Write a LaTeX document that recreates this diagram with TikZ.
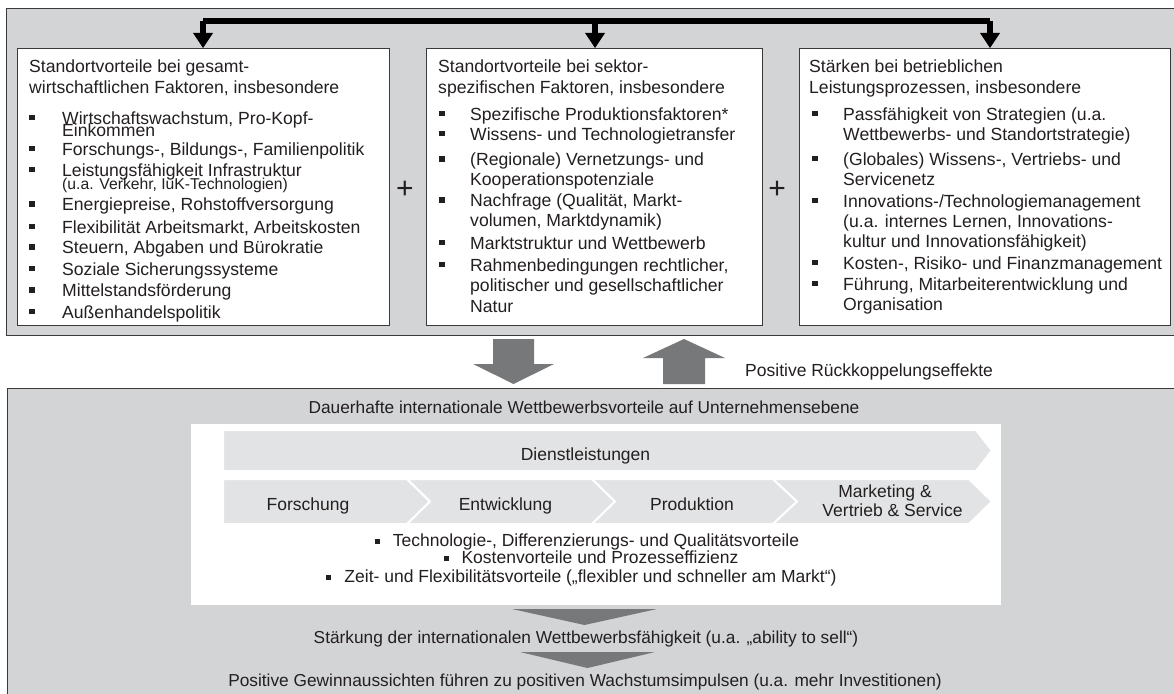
\documentclass[tikz,border=0pt]{standalone}
\usepackage{fontspec}
\setmainfont{Liberation Sans}
\usetikzlibrary{arrows.meta}
\definecolor{panel}{HTML}{D3D4D6}
\definecolor{ink}{HTML}{231F20}
\definecolor{chev}{HTML}{E2E3E4}
\definecolor{arr}{HTML}{77787A}
\definecolor{edge}{HTML}{3A3A3A}
\newcommand\fsA{\fontsize{17.6}{20}\selectfont}
\newcommand\fsB{\fontsize{17.5}{20}\selectfont}
\newcommand\fsC{\fontsize{17.3}{20}\selectfont}
\newcommand\fsS{\fontsize{15.7}{18}\selectfont}
\newcommand\fsP{\fontsize{30}{32}\selectfont}
\newcommand\bsq{\rule[2pt]{5pt}{5pt}\hspace{13pt}}
\newcommand\myitem[5]{\node[bul] (#1b) at (#2+3,#4-6.5) {}; \node[txt] (#1) at (#3,#4) {#5};}
\tikzset{
  txt/.style={anchor=base west, inner sep=0pt, text=ink, font=\fsA},
  btxt/.style={anchor=base, inner sep=0pt, text=ink, font=\fsB},
  ctxt/.style={anchor=base, inner sep=0pt, text=ink, font=\fsC},
  bul/.style={fill=ink, minimum size=5.5pt, inner sep=0pt},
  box/.style={draw=edge, fill=white, line width=1pt, inner sep=0pt, anchor=north west},
  panelbox/.style={draw=edge, fill=panel, line width=1.2pt, inner sep=0pt, anchor=north west},
  bus/.style={line width=6.5pt, draw=black},
  tip/.style={-{Triangle[length=15pt,width=20pt,line width=0pt]}},
  fat/.style={fill=arr},
  chevron/.style={fill=chev, draw=white, line width=2pt, line join=miter},
  plus/.style={inner sep=0pt, text=ink, font=\fsP}
}
\begin{document}
\begin{tikzpicture}[x=1pt,y=-1pt]
\useasboundingbox (0,0) rectangle (1174,693);
% panels
\node[panelbox, minimum width=1190pt, minimum height=327pt] (top) at (6,8) {};
\node[panelbox, minimum width=1190pt, minimum height=320pt] (bot) at (7,388) {};
% boxes
\node[box, minimum width=372pt, minimum height=277pt] (b1) at (17,48) {};
\node[box, minimum width=336pt, minimum height=277pt] (b2) at (426,48) {};
\node[box, minimum width=371pt, minimum height=277pt] (b3) at (799,48) {};
% bus
\coordinate (c1) at (203,21);
\coordinate (c2) at (595,21);
\coordinate (c3) at (990,21);
\draw[bus] (c1) -- (c3);
\draw[bus, tip] (c1) -- (c1 |- b1.north);
\draw[bus, tip] (c2) -- (c2 |- b2.north);
\draw[bus, tip] (c3) -- (c3 |- b3.north);
% plus signs
\node[plus] (pl1) at (405,190) {+};
\node[plus] (pl2) at (777,190) {+};
% box 1
\node[txt] (h1a) at (29,72) {Standortvorteile bei gesamt-};
\node[txt] (h1b) at (29,93) {wirtschaftlichen Faktoren, insbesondere};
\myitem{a1}{29}{62}{124}{Wirtschaftswachstum, Pro-Kopf-}
\node[txt] (a1c) at (62,136.5) {Einkommen};
\myitem{a2}{29}{62}{155}{Forschungs-, Bildungs-, Familienpolitik}
\myitem{a3}{29}{62}{176}{Leistungsfähigkeit Infrastruktur}
\node[txt, font=\fsS] (a3c) at (62,189) {(u.a. Verkehr, IuK-Technologien)};
\myitem{a4}{29}{62}{210.5}{Energiepreise, Rohstoffversorgung}
\myitem{a5}{29}{62}{233}{Flexibilität Arbeitsmarkt, Arbeitskosten}
\myitem{a6}{29}{62}{253.5}{Steuern, Abgaben und Bürokratie}
\myitem{a7}{29}{62}{275}{Soziale Sicherungssysteme}
\myitem{a8}{29}{62}{296.5}{Mittelstandsförderung}
\myitem{a9}{29}{62}{318}{Außenhandelspolitik}
% box 2
\node[txt] (h2a) at (438,73) {Standortvorteile bei sektor-};
\node[txt] (h2b) at (438,93) {spezifischen Faktoren, insbesondere};
\myitem{s1}{439}{470}{120}{Spezifische Produktionsfaktoren*}
\myitem{s2}{439}{470}{140}{Wissens- und Technologietransfer}
\myitem{s3}{439}{470}{165.5}{(Regionale) Vernetzungs- und}
\node[txt] (s3c) at (470,185) {Kooperationspotenziale};
\myitem{s4}{439}{470}{206.5}{Nachfrage (Qualität, Markt-}
\node[txt] (s4c) at (470,226.5) {volumen, Marktdynamik)};
\myitem{s5}{439}{470}{249}{Marktstruktur und Wettbewerb}
\myitem{s6}{439}{470}{271}{Rahmenbedingungen rechtlicher,}
\node[txt] (s6c) at (470,291) {politischer und gesellschaftlicher};
\node[txt] (s6d) at (470,312) {Natur};
% box 3
\node[txt] (h3a) at (809,72) {Stärken bei betrieblichen};
\node[txt] (h3b) at (809,93) {Leistungsprozessen, insbesondere};
\myitem{p1}{812}{843}{120}{Passfähigkeit von Strategien (u.a.}
\node[txt] (p1c) at (843,140) {Wettbewerbs- und Standortstrategie)};
\myitem{p2}{812}{843}{165}{(Globales) Wissens-, Vertriebs- und}
\node[txt] (p2c) at (843,185) {Servicenetz};
\myitem{p3}{812}{843}{207}{Innovations-/Technologiemanagement}
\node[txt] (p3c) at (843,227) {(u.a. internes Lernen, Innovations-};
\node[txt] (p3d) at (843,247) {kultur und Innovationsfähigkeit)};
\myitem{p4}{812}{843}{269}{Kosten-, Risiko- und Finanzmanagement}
\myitem{p5}{812}{843}{290}{Führung, Mitarbeiterentwicklung und}
\node[txt] (p5c) at (843,310) {Organisation};
% fat arrows between panels
\fill[fat] (493,339) -- (534,339) -- (534,364) -- (554,364) -- (513.5,384) -- (473,364) -- (493,364) -- cycle;
\fill[fat] (663,384) -- (705,384) -- (705,358) -- (725,358) -- (684,339) -- (643,358) -- (663,358) -- cycle;
\node[txt, font=\fsB] (fb) at (745,376) {Positive Rückkoppelungseffekte};
% bottom panel
\node[ctxt] (dau) at (584,413) {Dauerhafte internationale Wettbewerbsvorteile auf Unternehmensebene};
\node[fill=white, inner sep=0pt, anchor=north west, minimum width=810pt, minimum height=181pt] (wa) at (191,424) {};
\filldraw[chevron] (223,430) -- (976,430) -- (992,450.5) -- (976,471) -- (223,471) -- cycle;
\filldraw[chevron] (223,479) -- (407,479) -- (430,501.5) -- (407,524) -- (223,524) -- cycle;
\filldraw[chevron] (407,479) -- (592,479) -- (615,501.5) -- (592,524) -- (407,524) -- (430,501.5) -- cycle;
\filldraw[chevron] (592,479) -- (773,479) -- (797,501.5) -- (773,524) -- (592,524) -- (615,501.5) -- cycle;
\filldraw[chevron] (773,479) -- (969,479) -- (992,501.5) -- (969,524) -- (773,524) -- (797,501.5) -- cycle;
\node[btxt] (dl) at (585.5,460) {Dienstleistungen};
\node[btxt] (fo) at (308,510) {Forschung};
\node[btxt] (en) at (505.5,510) {Entwicklung};
\node[btxt] (pr) at (692,510) {Produktion};
\node[btxt] (mk1) at (885,497) {Marketing \&};
\node[btxt] (mk2) at (892.5,516) {Vertrieb \& Service};
\node[btxt] (q1) at (587,546) {\bsq Technologie-, Differenzierungs- und Qualitätsvorteile};
\node[btxt] (q2) at (591,563) {\bsq Kostenvorteile und Prozesseffizienz};
\node[btxt] (q3) at (581.5,582) {\bsq Zeit- und Flexibilitätsvorteile („flexibler und schneller am Markt“)};
\fill[fat] (512,609) -- (657,609) -- (584.5,625) -- cycle;
\node[ctxt] (st) at (586,643) {Stärkung der internationalen Wettbewerbsfähigkeit (u.a. „ability to sell“)};
\fill[fat] (520,652) -- (655,652) -- (587.5,668) -- cycle;
\node[ctxt] (pg) at (585,686) {Positive Gewinnaussichten führen zu positiven Wachstumsimpulsen (u.a. mehr Investitionen)};
\end{tikzpicture}
\end{document}
